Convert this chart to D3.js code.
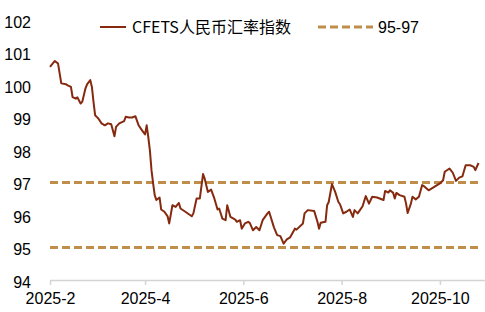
<!DOCTYPE html>
<html>
<head>
<meta charset="utf-8">
<script src="https://cdn.jsdelivr.net/npm/d3@7"></script>
<style>
  body { margin: 0; background: #fff; }
  svg { display: block; }
</style>
</head>
<body>
<script>
// CFETS 人民币汇率指数 (2025)
const dates = [
  "2025-02-01","2025-02-04","2025-02-06","2025-02-08","2025-02-11","2025-02-12","2025-02-14","2025-02-15",
  "2025-02-17","2025-02-18","2025-02-20","2025-02-21","2025-02-23","2025-02-24","2025-02-26","2025-02-27",
  "2025-02-28","2025-03-01","2025-03-02","2025-03-03","2025-03-05","2025-03-07","2025-03-09","2025-03-11",
  "2025-03-13","2025-03-14","2025-03-16","2025-03-19","2025-03-20","2025-03-22","2025-03-24","2025-03-26",
  "2025-03-28","2025-03-30","2025-04-01","2025-04-02","2025-04-03","2025-04-04","2025-04-05","2025-04-06",
  "2025-04-07","2025-04-08","2025-04-10","2025-04-11","2025-04-13","2025-04-15","2025-04-16","2025-04-18",
  "2025-04-20","2025-04-22","2025-04-23","2025-04-26","2025-04-30","2025-05-01","2025-05-03","2025-05-05",
  "2025-05-07","2025-05-08","2025-05-10","2025-05-12","2025-05-14","2025-05-16","2025-05-17","2025-05-19",
  "2025-05-21","2025-05-22","2025-05-24","2025-05-27","2025-05-28","2025-05-30","2025-05-31","2025-06-02",
  "2025-06-04","2025-06-05","2025-06-07","2025-06-09","2025-06-11","2025-06-13","2025-06-16","2025-06-17",
  "2025-06-20","2025-06-22","2025-06-24","2025-06-26","2025-06-28","2025-06-30","2025-07-03","2025-07-04",
  "2025-07-08","2025-07-09","2025-07-11","2025-07-15","2025-07-17","2025-07-18","2025-07-19","2025-07-22",
  "2025-07-23","2025-07-24","2025-07-26","2025-07-28","2025-07-30","2025-07-31","2025-08-02","2025-08-04",
  "2025-08-06","2025-08-08","2025-08-09","2025-08-11","2025-08-14","2025-08-16","2025-08-18","2025-08-20",
  "2025-08-23","2025-08-27","2025-08-28","2025-08-30","2025-08-31","2025-09-02","2025-09-03","2025-09-04",
  "2025-09-06","2025-09-09","2025-09-10","2025-09-11","2025-09-13","2025-09-14","2025-09-16","2025-09-18",
  "2025-09-20","2025-09-21","2025-09-24","2025-09-27","2025-10-01","2025-10-03","2025-10-04","2025-10-07",
  "2025-10-09","2025-10-11","2025-10-13","2025-10-15","2025-10-17","2025-10-20","2025-10-22","2025-10-23",
  "2025-10-25"
];
const cfetsValues = [
  100.56,100.74,100.66,100.05,100.02,99.99,99.94,99.63,
  99.58,99.62,99.43,99.48,99.89,100.02,100.15,99.94,
  99.48,99.07,99.02,98.97,98.82,98.76,98.82,98.79,
  98.42,98.71,98.82,98.89,99.02,99.00,99.00,99.04,
  98.76,98.61,98.48,98.76,98.40,97.99,97.38,96.97,
  96.61,96.46,96.54,96.17,96.10,95.96,95.74,96.30,
  96.25,96.37,96.20,96.10,95.96,96.05,96.51,96.51,
  97.26,97.12,96.71,96.78,96.51,96.17,96.20,95.89,
  95.84,96.30,95.94,95.86,95.79,95.84,95.58,95.74,
  95.79,95.76,95.53,95.63,95.53,95.84,96.05,96.10,
  95.62,95.38,95.35,95.12,95.25,95.31,95.58,95.55,
  95.74,96.05,96.15,96.12,95.79,95.58,95.76,95.79,
  96.30,96.40,96.95,96.71,96.40,96.33,96.05,96.10,
  96.17,95.94,96.15,96.05,96.27,96.58,96.35,96.56,
  96.54,96.46,96.74,96.69,96.76,96.68,96.51,96.68,
  96.61,96.56,96.35,96.06,96.35,96.56,96.48,96.56,
  96.92,96.89,96.76,96.85,96.97,97.07,97.33,97.43,
  97.30,97.05,97.15,97.19,97.53,97.53,97.48,97.38,
  97.60
];
const bandLevels = [95, 97];
const yTicks = [94, 95, 96, 97, 98, 99, 100, 101, 102];
const xTickDates = ["2025-02-01", "2025-04-01", "2025-06-01", "2025-08-01", "2025-10-01"];
const xTickLabels = ["2025-2", "2025-4", "2025-6", "2025-8", "2025-10"];
const seriesNames = ["CFETS人民币汇率指数", "95-97"];

const width = 485, height = 312;
const margin = { top: 20, right: 0, bottom: 32, left: 50 };
const lineColor = "#852a0f";
const bandColor = "#bf8e4b";
const font = "'Liberation Sans', Arial, sans-serif";

const parse = d3.timeParse("%Y-%m-%d");
const data = dates.map((d, i) => ({ date: parse(d), value: cfetsValues[i] }));

const x = d3.scaleTime()
  .domain([parse("2025-02-01"), parse("2025-10-29")])
  .range([margin.left, width - margin.right]);
const y = d3.scaleLinear()
  .domain([94, 102])
  .range([height - margin.bottom, margin.top]);

const svg = d3.select("body").append("svg")
  .attr("width", width)
  .attr("height", height);

// y轴（只有文字）
const gy = svg.append("g")
  .attr("transform", `translate(${margin.left},0)`)
  .call(d3.axisLeft(y).tickValues(yTicks).tickSize(0).tickPadding(19).tickFormat(d3.format("d")));
gy.select(".domain").remove();
gy.selectAll("text").attr("font-family", font).attr("font-size", 16).attr("fill", "#000").attr("dy", "0.45em");

// x轴
const gx = svg.append("g")
  .attr("transform", `translate(0,${y(94)})`)
  .call(d3.axisBottom(x)
    .tickValues(xTickDates.map(parse))
    .tickSize(5)
    .tickSizeOuter(0)
    .tickPadding(8)
    .tickFormat((d, i) => xTickLabels[i]));
gx.select(".domain").attr("stroke", "#d4d4d4").attr("stroke-width", 1.5);
gx.selectAll(".tick line").attr("stroke", "#d4d4d4").attr("stroke-width", 1.5);
gx.selectAll("text").attr("font-family", font).attr("font-size", 16).attr("fill", "#000");

// 95-97 区间虚线
svg.append("g").selectAll("line").data(bandLevels).join("line")
  .attr("x1", x(parse("2025-02-01")))
  .attr("x2", x(parse("2025-10-26")))
  .attr("y1", d => y(d))
  .attr("y2", d => y(d))
  .attr("stroke", bandColor)
  .attr("stroke-width", 3)
  .attr("stroke-dasharray", "8,4");

// 指数折线
const line = d3.line()
  .x(d => x(d.date))
  .y(d => y(d.value));
svg.append("path")
  .datum(data)
  .attr("fill", "none")
  .attr("stroke", lineColor)
  .attr("stroke-width", 2)
  .attr("stroke-linejoin", "round")
  .attr("d", line);

// 图例
const legend = svg.append("g").attr("font-family", "'Noto Sans CJK SC', sans-serif").attr("font-size", 16);
const item1 = legend.append("g").attr("transform", "translate(100,27)");
item1.append("line").attr("x1", 0).attr("x2", 26).attr("stroke", lineColor).attr("stroke-width", 2);
item1.append("text").attr("x", 32).attr("dy", "0.35em").text(seriesNames[0]);
const item2 = legend.append("g").attr("transform", "translate(318,27)");
item2.append("line").attr("x1", 0).attr("x2", 55).attr("stroke", bandColor).attr("stroke-width", 3).attr("stroke-dasharray", "8,4");
item2.append("text").attr("x", 60).attr("dy", "0.35em").attr("font-family", font).text(seriesNames[1]);
</script>
</body>
</html>
